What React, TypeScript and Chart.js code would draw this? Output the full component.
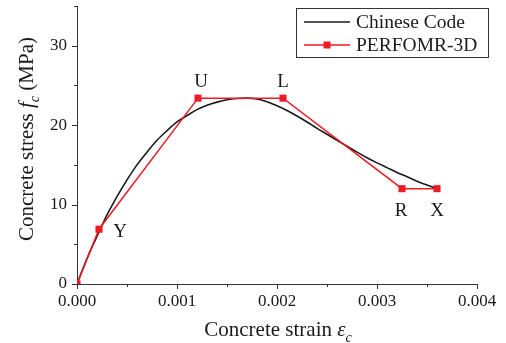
import React, { useEffect, useRef } from 'react';
import { Chart, registerables } from 'chart.js';

Chart.register(...registerables);

// ---- data ----
const chineseStrain = [
  0, 0.0001, 0.0002, 0.0003, 0.0004, 0.0005, 0.0006, 0.0007, 0.0008, 0.0009,
  0.001, 0.0011, 0.0012, 0.0013, 0.0014, 0.0015, 0.0016, 0.0017, 0.0018, 0.0019,
  0.002, 0.0021, 0.0022, 0.0023, 0.0024, 0.0025, 0.0026, 0.0027, 0.0028, 0.0029,
  0.003, 0.0031, 0.0032, 0.0033, 0.0034, 0.0035, 0.0036,
];
const chineseStress = [
  0, 3.2, 6.0, 8.7, 11.0, 13.1, 15.0, 16.6, 18.1, 19.3,
  20.4, 21.2, 21.95, 22.5, 22.9, 23.2, 23.35, 23.4, 23.3, 22.95,
  22.45, 21.85, 21.15, 20.4, 19.6, 18.85, 18.1, 17.35, 16.6, 15.9,
  15.25, 14.65, 14.05, 13.5, 12.95, 12.45, 12.0,
];
const perfStrain = [0, 0.00022, 0.00121, 0.00206, 0.00325, 0.0036];
const perfStress = [0, 6.9, 23.4, 23.4, 12.0, 12.0];
const pointLabels = ['', 'Y', 'U', 'L', 'R', 'X'];
const seriesNames = ['Chinese Code', 'PERFOMR-3D'];
const xMajorTicks = [0, 0.001, 0.002, 0.003, 0.004];
const yMajorTicks = [0, 10, 20, 30];

const SERIF = '"Liberation Serif", "Times New Roman", serif';
const RED = '#ec1c24';
const BLACK = '#1a1a1a';
const AXIS = '#333333';

type Seg = { t: string; italic?: boolean; sub?: boolean };

function drawRich(ctx: CanvasRenderingContext2D, segs: Seg[], size: number, x: number, y: number, align: 'center' | 'left') {
  const fonts = segs.map((s) => `${s.italic ? 'italic ' : ''}${s.sub ? Math.round(size * 0.68) : size}px ${SERIF}`);
  const widths = segs.map((s, i) => {
    ctx.font = fonts[i];
    return ctx.measureText(s.t).width;
  });
  const total = widths.reduce((a, b) => a + b, 0);
  let cx = align === 'center' ? x - total / 2 : x;
  ctx.textAlign = 'left';
  ctx.textBaseline = 'alphabetic';
  segs.forEach((s, i) => {
    ctx.font = fonts[i];
    ctx.fillText(s.t, cx, s.sub ? y + size * 0.28 : y);
    cx += widths[i];
  });
}

const decorPlugin = {
  id: 'decor',
  afterDraw(chart: any) {
    const ctx: CanvasRenderingContext2D = chart.ctx;
    const xs = chart.scales.x;
    const ys = chart.scales.y;
    const area = chart.chartArea;
    ctx.save();

    // tick marks (major + minor), outward
    ctx.strokeStyle = AXIS;
    ctx.lineWidth = 1;
    ctx.beginPath();
    for (let i = 0; i <= 8; i++) {
      const v = i * 0.0005;
      const px = Math.round(xs.getPixelForValue(v)) + 0.5;
      const len = xMajorTicks.some((m) => Math.abs(m - v) < 1e-9) ? 5 : 3;
      ctx.moveTo(px, area.bottom);
      ctx.lineTo(px, area.bottom + len);
    }
    for (let v = 0; v <= 35; v += 5) {
      const py = Math.round(ys.getPixelForValue(v)) + 0.5;
      const len = yMajorTicks.includes(v) ? 5 : 3;
      ctx.moveTo(area.left, py);
      ctx.lineTo(area.left - len, py);
    }
    ctx.stroke();

    // point labels
    ctx.fillStyle = BLACK;
    ctx.font = `19px ${SERIF}`;
    ctx.textAlign = 'center';
    ctx.textBaseline = 'middle';
    const offsets: Record<string, [number, number]> = {
      Y: [21, 3],
      U: [3, -16],
      L: [0, -16],
      R: [-1, 22],
      X: [0, 22],
    };
    pointLabels.forEach((lab, i) => {
      if (!lab) return;
      const px = xs.getPixelForValue(perfStrain[i]);
      const py = ys.getPixelForValue(perfStress[i]);
      const o = offsets[lab];
      ctx.fillText(lab, px + o[0], py + o[1]);
    });

    // axis titles
    ctx.fillStyle = BLACK;
    drawRich(
      ctx,
      [{ t: 'Concrete strain ' }, { t: 'ε', italic: true }, { t: 'c', italic: true, sub: true }],
      21,
      278,
      336,
      'center'
    );
    ctx.save();
    ctx.translate(33, 139);
    ctx.rotate(-Math.PI / 2);
    drawRich(
      ctx,
      [{ t: 'Concrete stress ' }, { t: 'f', italic: true }, { t: 'c', italic: true, sub: true }, { t: ' (MPa)' }],
      21,
      0,
      0,
      'center'
    );
    ctx.restore();

    // legend
    const lx = 296.5, ly = 8.5, lw = 192, lh = 49;
    ctx.fillStyle = '#ffffff';
    ctx.fillRect(lx, ly, lw, lh);
    ctx.strokeStyle = AXIS;
    ctx.lineWidth = 1;
    ctx.strokeRect(lx, ly, lw, lh);
    const rows = [22, 45];
    ctx.strokeStyle = BLACK;
    ctx.lineWidth = 1.5;
    ctx.beginPath();
    ctx.moveTo(304, rows[0]);
    ctx.lineTo(350, rows[0]);
    ctx.stroke();
    ctx.strokeStyle = RED;
    ctx.beginPath();
    ctx.moveTo(304, rows[1]);
    ctx.lineTo(350, rows[1]);
    ctx.stroke();
    ctx.fillStyle = RED;
    ctx.fillRect(327 - 3.5, rows[1] - 3.5, 7, 7);
    ctx.fillStyle = BLACK;
    ctx.font = `19.5px ${SERIF}`;
    ctx.textAlign = 'left';
    ctx.textBaseline = 'middle';
    ctx.fillText(seriesNames[0], 356, rows[0] + 1);
    ctx.fillText(seriesNames[1], 356, rows[1] + 1);

    ctx.restore();
  },
};

export default function App() {
  const canvasRef = useRef<HTMLCanvasElement | null>(null);

  useEffect(() => {
    const canvas = canvasRef.current;
    if (!canvas) return;
    const chart = new Chart(canvas, {
      type: 'line',
      data: {
        datasets: [
          {
            label: seriesNames[0],
            data: chineseStrain.map((x, i) => ({ x, y: chineseStress[i] })),
            borderColor: BLACK,
            borderWidth: 1.6,
            pointRadius: 0,
            cubicInterpolationMode: 'monotone',
            fill: false,
            order: 1,
          },
          {
            label: seriesNames[1],
            data: perfStrain.map((x, i) => ({ x, y: perfStress[i] })),
            borderColor: RED,
            backgroundColor: RED,
            borderWidth: 1.5,
            pointStyle: 'rect',
            pointRadius: 5,
            pointBorderWidth: 0,
            pointBackgroundColor: RED,
            tension: 0,
            fill: false,
            order: 0,
          },
        ],
      },
      options: {
        animation: false,
        responsive: false,
        maintainAspectRatio: false,
        devicePixelRatio: 1,
        layout: { padding: { left: 0, top: 6, right: 29, bottom: 0 } },
        plugins: {
          legend: { display: false },
          tooltip: { enabled: false },
        },
        scales: {
          x: {
            type: 'linear',
            min: 0,
            max: 0.004,
            grid: { display: false, drawTicks: false },
            border: { display: true, color: AXIS, width: 1 },
            ticks: {
              stepSize: 0.001,
              padding: 7,
              color: BLACK,
              font: { family: SERIF, size: 17 },
              maxRotation: 0,
              callback: (v: any) => Number(v).toFixed(3),
            },
            afterFit: (s: any) => {
              s.height = 59;
              s.paddingLeft = 0;
              s.paddingRight = 0;
            },
          },
          y: {
            type: 'linear',
            min: 0,
            max: 35,
            grid: { display: false, drawTicks: false },
            border: { display: true, color: AXIS, width: 1 },
            ticks: {
              stepSize: 10,
              padding: 10,
              color: BLACK,
              font: { family: SERIF, size: 17 },
              callback: (v: any) => (Number(v) % 10 === 0 ? String(v) : ''),
            },
            afterFit: (s: any) => {
              s.width = 77;
              s.paddingTop = 0;
              s.paddingBottom = 0;
            },
          },
        },
      },
      plugins: [decorPlugin],
    });
    return () => chart.destroy();
  }, []);

  return (
    <div style={{ position: 'absolute', left: 0, top: 0, width: 506, height: 343, background: '#ffffff' }}>
      <canvas ref={canvasRef} width={506} height={343} style={{ display: 'block', width: 506, height: 343 }} />
    </div>
  );
}
